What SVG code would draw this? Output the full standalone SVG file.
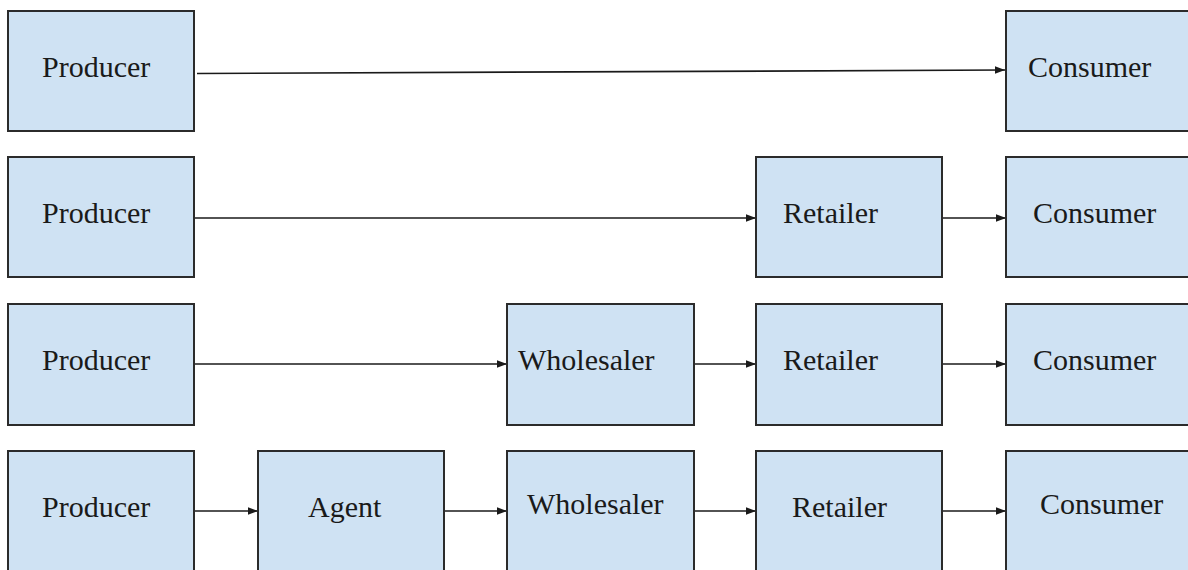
<svg xmlns="http://www.w3.org/2000/svg" width="1188" height="570" viewBox="0 0 1188 570">
<style>
.box{fill:#cfe2f3;stroke:#2b2b2b;stroke-width:2}
.lbl{font-family:"Liberation Serif","Times New Roman",serif;font-size:30px;fill:#1a1a1a}
.edge{stroke:#1a1a1a;stroke-width:1.7;fill:none;marker-end:url(#ah)}
</style>
<defs>
<marker id="ah" markerWidth="12" markerHeight="10" refX="10" refY="5" orient="auto" markerUnits="userSpaceOnUse">
<path d="M0,1.3 L10,5 L0,8.7 Z" fill="#1a1a1a"/>
</marker>
</defs>
<rect width="1188" height="570" fill="#fff"/>
<g id="connectors">
<path class="edge" d="M197,73.5 L1005,70"/>
<path class="edge" d="M194,218 L756,218"/>
<path class="edge" d="M942,218 L1006,218"/>
<path class="edge" d="M194,364 L507,364"/>
<path class="edge" d="M694,364 L756,364"/>
<path class="edge" d="M942,364 L1006,364"/>
<path class="edge" d="M194,511 L258,511"/>
<path class="edge" d="M444,511 L507,511"/>
<path class="edge" d="M694,511 L756,511"/>
<path class="edge" d="M942,511 L1006,511"/>
</g>
<g id="r1-producer"><rect class="box" x="8" y="11" width="186" height="120"/><text class="lbl" x="42" y="77">Producer</text></g>
<g id="r1-consumer"><rect class="box" x="1006" y="11" width="186" height="120"/><text class="lbl" x="1028" y="77">Consumer</text></g>
<g id="r2-producer"><rect class="box" x="8" y="157" width="186" height="120"/><text class="lbl" x="42" y="223">Producer</text></g>
<g id="r2-retailer"><rect class="box" x="756" y="157" width="186" height="120"/><text class="lbl" x="783" y="223">Retailer</text></g>
<g id="r2-consumer"><rect class="box" x="1006" y="157" width="186" height="120"/><text class="lbl" x="1033" y="223">Consumer</text></g>
<g id="r3-producer"><rect class="box" x="8" y="304" width="186" height="121"/><text class="lbl" x="42" y="370">Producer</text></g>
<g id="r3-wholesaler"><rect class="box" x="507" y="304" width="187" height="121"/><text class="lbl" x="518" y="370">Wholesaler</text></g>
<g id="r3-retailer"><rect class="box" x="756" y="304" width="186" height="121"/><text class="lbl" x="783" y="370">Retailer</text></g>
<g id="r3-consumer"><rect class="box" x="1006" y="304" width="186" height="121"/><text class="lbl" x="1033" y="370">Consumer</text></g>
<g id="r4-producer"><rect class="box" x="8" y="451" width="186" height="125"/><text class="lbl" x="42" y="517">Producer</text></g>
<g id="r4-agent"><rect class="box" x="258" y="451" width="186" height="125"/><text class="lbl" x="308" y="517">Agent</text></g>
<g id="r4-wholesaler"><rect class="box" x="507" y="451" width="187" height="125"/><text class="lbl" x="527" y="514">Wholesaler</text></g>
<g id="r4-retailer"><rect class="box" x="756" y="451" width="186" height="125"/><text class="lbl" x="792" y="517">Retailer</text></g>
<g id="r4-consumer"><rect class="box" x="1006" y="451" width="186" height="125"/><text class="lbl" x="1040" y="514">Consumer</text></g>
</svg>
